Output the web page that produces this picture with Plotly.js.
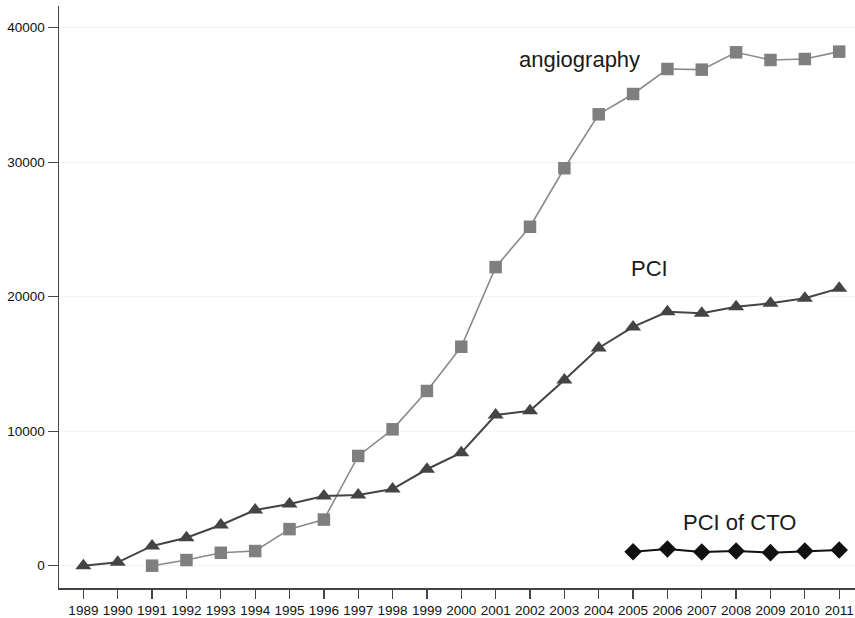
<!DOCTYPE html>
<html>
<head>
<meta charset="utf-8">
<script src="https://cdn.plot.ly/plotly-3.0.1.min.js"></script>
<style>html,body{margin:0;padding:0;background:#fff;}#chart{width:855px;height:618px;}</style>
</head>
<body>
<div id="chart"></div>
<script>
const yearsAll = [1989,1990,1991,1992,1993,1994,1995,1996,1997,1998,1999,2000,2001,2002,2003,2004,2005,2006,2007,2008,2009,2010,2011];
const angioYears = [1991,1992,1993,1994,1995,1996,1997,1998,1999,2000,2001,2002,2003,2004,2005,2006,2007,2008,2009,2010,2011];
const angioValues = [0,420,960,1090,2720,3430,8160,10140,12990,16280,22200,25200,29550,33560,35070,36930,36880,38170,37600,37670,38220];
const pciValues = [0,250,1470,2080,3030,4140,4590,5180,5260,5700,7170,8400,11200,11520,13810,16190,17750,18880,18770,19260,19510,19880,20620];
const ctoYears = [2005,2006,2007,2008,2009,2010,2011];
const ctoValues = [1040,1240,1020,1090,970,1090,1170];
const yTicks = [0,10000,20000,30000,40000];
const labels = [
  {text:'angiography', year:2003.45, value:37670},
  {text:'PCI', year:2005.49, value:22130},
  {text:'PCI of CTO', year:2008.11, value:3200}
];

const traces = [
  {x: angioYears, y: angioValues, type:'scatter', mode:'lines+markers',
   line:{color:'#8a8a8a', width:1.6}, marker:{symbol:'square', size:12.5, color:'#7f7f7f'}},
  {x: yearsAll, y: pciValues, type:'scatter', mode:'lines+markers',
   line:{color:'#444444', width:2}, marker:{symbol:'triangle-up', size:14, color:'#444444'}},
  {x: ctoYears, y: ctoValues, type:'scatter', mode:'lines+markers',
   line:{color:'#111111', width:2}, marker:{symbol:'diamond', size:13.5, color:'#111111'}}
];

const layout = {
  width:855, height:618,
  margin:{l:59, r:0, t:6, b:30},
  paper_bgcolor:'#ffffff', plot_bgcolor:'#ffffff',
  showlegend:false,
  font:{family:'Liberation Sans, Arial, sans-serif', color:'#111111', size:13.5},
  xaxis:{range:[1988.29, 2011.46], tickmode:'array', tickvals:yearsAll, ticktext:yearsAll.map(String),
    tickangle:0, showgrid:false, zeroline:false, showline:true, linecolor:'#444444', linewidth:1.5,
    ticks:'outside', ticklen:9, tickwidth:1.3, tickcolor:'#444444', tickfont:{size:13.5, color:'#111111'}},
  yaxis:{range:[-1658, 41613], tickmode:'array', tickvals:yTicks, ticktext:yTicks.map(String),
    showgrid:true, gridcolor:'#f4f4f4', gridwidth:1, zeroline:false, showline:true, linecolor:'#444444', linewidth:1.5,
    ticks:'outside', ticklen:10, tickwidth:1.3, tickcolor:'#444444', tickfont:{size:13.5, color:'#111111'}},
  annotations: labels.map(l => ({x:l.year, y:l.value, xref:'x', yref:'y', text:l.text, showarrow:false,
    font:{size:22, color:'#1a1a1a', family:'Liberation Sans, Arial, sans-serif'}}))
};

Plotly.newPlot('chart', traces, layout, {displayModeBar:false, staticPlot:true});
</script>
</body>
</html>
